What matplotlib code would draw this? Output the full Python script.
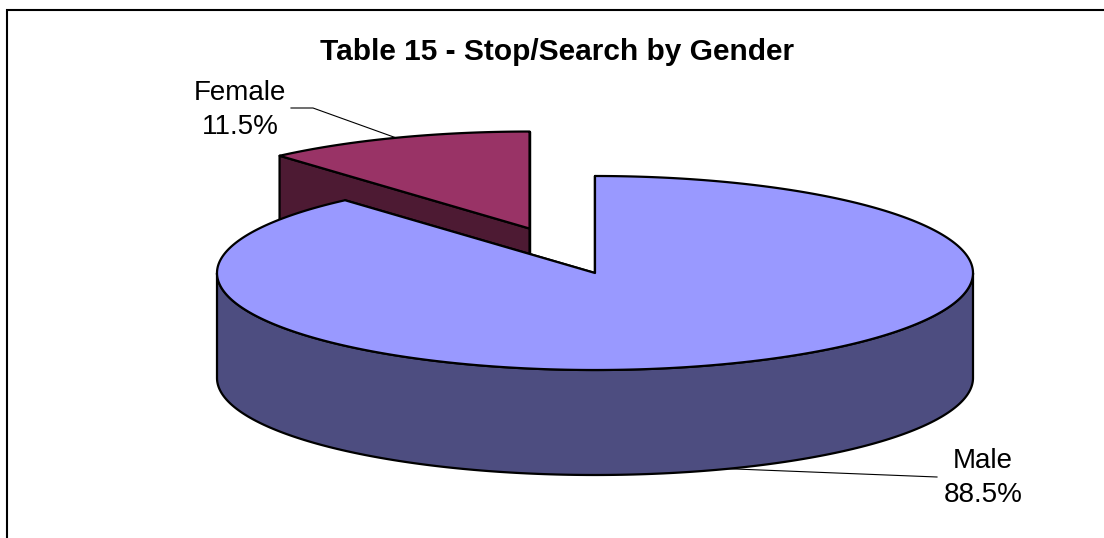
import numpy as np
import matplotlib.pyplot as plt
from matplotlib.patches import Polygon

plt.rcParams['font.family'] = ['Liberation Sans', 'DejaVu Sans']

# data
labels = ['Male', 'Female']
values = [88.5, 11.5]
explode = [0.0, 0.49]
top_colors = ['#9999ff', '#993366']
side_colors = ['#4d4d80', '#4d1a33']
title = 'Table 15 - Stop/Search by Gender'

# pie geometry in pixel units of the figure
W, H = 1104, 538
cx, cy = 595, 273
a, b = 378, 97
depth = 105

fig = plt.figure(figsize=(W / 100, H / 100), dpi=100)
ax = fig.add_axes([0, 0, 1, 1])
ax.set_xlim(0, W)
ax.set_ylim(H, 0)
ax.axis('off')

# slice angles: Female starts at 12 o'clock and goes counter clockwise
fracs = np.array(values) / sum(values)
f_start = 90.0
f_end = f_start + 360 * fracs[1]
m_start = f_end
m_end = 90.0 + 360
spans = {0: (m_start, m_end), 1: (f_start, f_end)}


def centre(i):
    t0, t1 = spans[i]
    mid = np.radians((t0 + t1) / 2)
    return cx + explode[i] * a * np.cos(mid), cy - explode[i] * b * np.sin(mid)


def rim(x0, y0, t, dz=0):
    t = np.radians(t)
    return np.column_stack([x0 + a * np.cos(t), y0 - b * np.sin(t) + dz])


def draw_slice(i):
    x0, y0 = centre(i)
    t0, t1 = spans[i]
    kw = dict(edgecolor='black', linewidth=1.6, joinstyle='round')
    # radial side walls
    for t in (t0, t1):
        p = rim(x0, y0, [t])[0]
        wall = [(x0, y0), p, (p[0], p[1] + depth), (x0, y0 + depth)]
        ax.add_patch(Polygon(wall, closed=True, facecolor=side_colors[i], **kw))
    # curved outer wall on the front half
    lo, hi = max(t0, 180), min(t1, 360)
    if hi > lo:
        ts = np.linspace(lo, hi, 200)
        outer = np.vstack([rim(x0, y0, ts), rim(x0, y0, ts[::-1], depth)])
        ax.add_patch(Polygon(outer, closed=True, facecolor=side_colors[i], **kw))
    # top face
    ts = np.linspace(t0, t1, 400)
    top = np.vstack([[x0, y0], rim(x0, y0, ts)])
    ax.add_patch(Polygon(top, closed=True, facecolor=top_colors[i], **kw))


# back slice first, then the big front slice on top
draw_slice(1)
draw_slice(0)

# data labels with leader lines
txt = dict(fontsize=20, ha='center', va='center', linespacing=1.45, color='black')
for i, lab in enumerate(labels):
    x0, y0 = centre(i)
    t0, t1 = spans[i]
    mid = (t0 + t1) / 2 % 360
    dz = depth if 180 < mid < 360 else 0
    px, py = rim(x0, y0, [mid], dz)[0]
    if i == 1:
        ax.plot([px, 313, 291], [py, 108, 108], color='black', lw=0.8)
        ax.text(240, 110, f'{lab}\n{values[i]}%', **txt)
    else:
        ax.plot([px, 937], [py, 477], color='black', lw=0.8)
        ax.text(983, 478, f'{lab}\n{values[i]}%', **txt)

ax.text(557, 60, title, fontsize=21.5, fontweight='bold', ha='center', va='baseline')

# chart area border (open on the right and bottom)
ax.plot([7, 7, W], [H, 10, 10], color='black', lw=1.5, solid_joinstyle='miter')

fig.savefig('out.png', dpi=100)
